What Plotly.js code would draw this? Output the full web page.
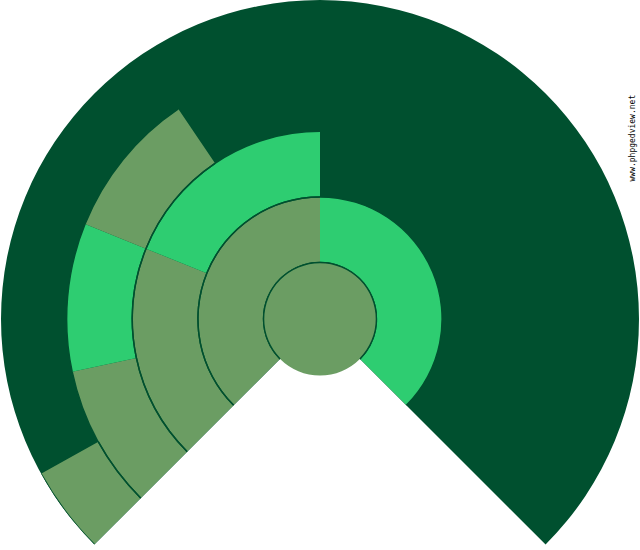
<!DOCTYPE html>
<html><head><meta charset="utf-8">
<script src="https://cdn.plot.ly/plotly-3.0.1.min.js"></script>
<style>html,body{margin:0;padding:0;background:#fff;overflow:hidden}#chart{width:640px;height:550px}</style>
</head><body><div id="chart"></div>
<script>
// 270° fan chart: ancestors present, by generation and slot (clockwise from bottom-left)
const generation = [0, 1, 1, 2, 2, 3, 3, 3, 4];
const slot       = [0, 0, 1, 0, 1, 0, 1, 2, 0];
const sex        = ['M', 'M', 'F', 'M', 'F', 'M', 'F', 'M', 'M'];
const fanSpan = 270;                 // degrees of the fan
const watermark = 'www.phpgedview.net';

const COLORS = {M: '#6b9d63', F: '#2ecd71'};
const BG = '#00502f', LINE = '#00502f';
const CENTER_R = 0.86, RING_W = 1, RMAX = CENTER_R + 4 * RING_W;
const LW = 0.022;

const W = 640, H = 550;
const dBottom = 0.0099;
const Rpx = H * (1 - dBottom) / (1 + Math.SQRT1_2);
const cx = W / 2, cy = Rpx;

// build segments
const segTheta = [], segWidth = [], segR = [], segBase = [], segColor = [];
const lnTheta = [], lnWidth = [], lnBase = [];
for (let i = 0; i < generation.length; i++) {
  const g = generation[i];
  if (g === 0) continue;
  const span = fanSpan / Math.pow(2, g);
  const s = Math.floor(slot[i] * span), e = Math.floor((slot[i] + 1) * span); // whole degrees
  const b = CENTER_R + (g - 1) * RING_W;
  segTheta.push((s + e) / 2); segWidth.push(e - s);
  segBase.push(b); segR.push(RING_W); segColor.push(COLORS[sex[i]]);
  [b, b + RING_W].forEach(rr => { lnTheta.push((s + e) / 2); lnWidth.push(e - s); lnBase.push(rr - LW / 2); });
}
const rootIdx = generation.indexOf(0);

const angAxis = {visible: false, thetaunit: 'degrees', rotation: 225, direction: 'clockwise', type: 'linear'};

const traces = [
  {type: 'barpolar', subplot: 'polar', theta: segTheta, width: segWidth, r: segR, base: segBase,
   marker: {color: segColor, line: {width: 0}}, hoverinfo: 'skip'},
  {type: 'barpolar', subplot: 'polar', theta: lnTheta, width: lnWidth, r: lnTheta.map(() => LW), base: lnBase,
   marker: {color: LINE, line: {width: 0}}, hoverinfo: 'skip'},
  // root person: full disc
  {type: 'barpolar', subplot: 'polar2', theta: [180], width: [360], r: [CENTER_R], base: [0],
   marker: {color: COLORS[sex[rootIdx]], line: {width: 0}}, hoverinfo: 'skip'},
  {type: 'barpolar', subplot: 'polar2', theta: [fanSpan / 2], width: [fanSpan], r: [LW], base: [CENTER_R - LW / 2],
   marker: {color: LINE, line: {width: 0}}, hoverinfo: 'skip'}
];

const R2 = CENTER_R + 0.03;
const r2px = R2 / RMAX * Rpx;

const layout = {
  width: W, height: H, margin: {l: 0, r: 0, t: 0, b: 0, pad: 0},
  paper_bgcolor: '#ffffff', showlegend: false,
  polar: {
    domain: {x: [0, 1], y: [dBottom, 1]},
    sector: [-45, 225], bgcolor: BG, bargap: 0, hole: 0,
    radialaxis: {visible: false, range: [0, RMAX], autorange: false},
    angularaxis: angAxis
  },
  polar2: {
    domain: {x: [(cx - r2px) / W, (cx + r2px) / W], y: [1 - (cy + r2px) / H, 1 - (cy - r2px) / H]},
    sector: [0, 360], bgcolor: 'rgba(0,0,0,0)', bargap: 0, hole: 0,
    radialaxis: {visible: false, range: [0, R2], autorange: false},
    angularaxis: angAxis
  },
  annotations: [{
    text: watermark, xref: 'paper', yref: 'paper', x: 632 / W, y: 1 - 138.5 / H,
    xanchor: 'center', yanchor: 'middle', showarrow: false, textangle: -90,
    font: {family: 'DejaVu Sans Mono', size: 8, color: '#000000'}
  }]
};

Plotly.newPlot('chart', traces, layout, {displayModeBar: false, staticPlot: true});
</script>
</body></html>
